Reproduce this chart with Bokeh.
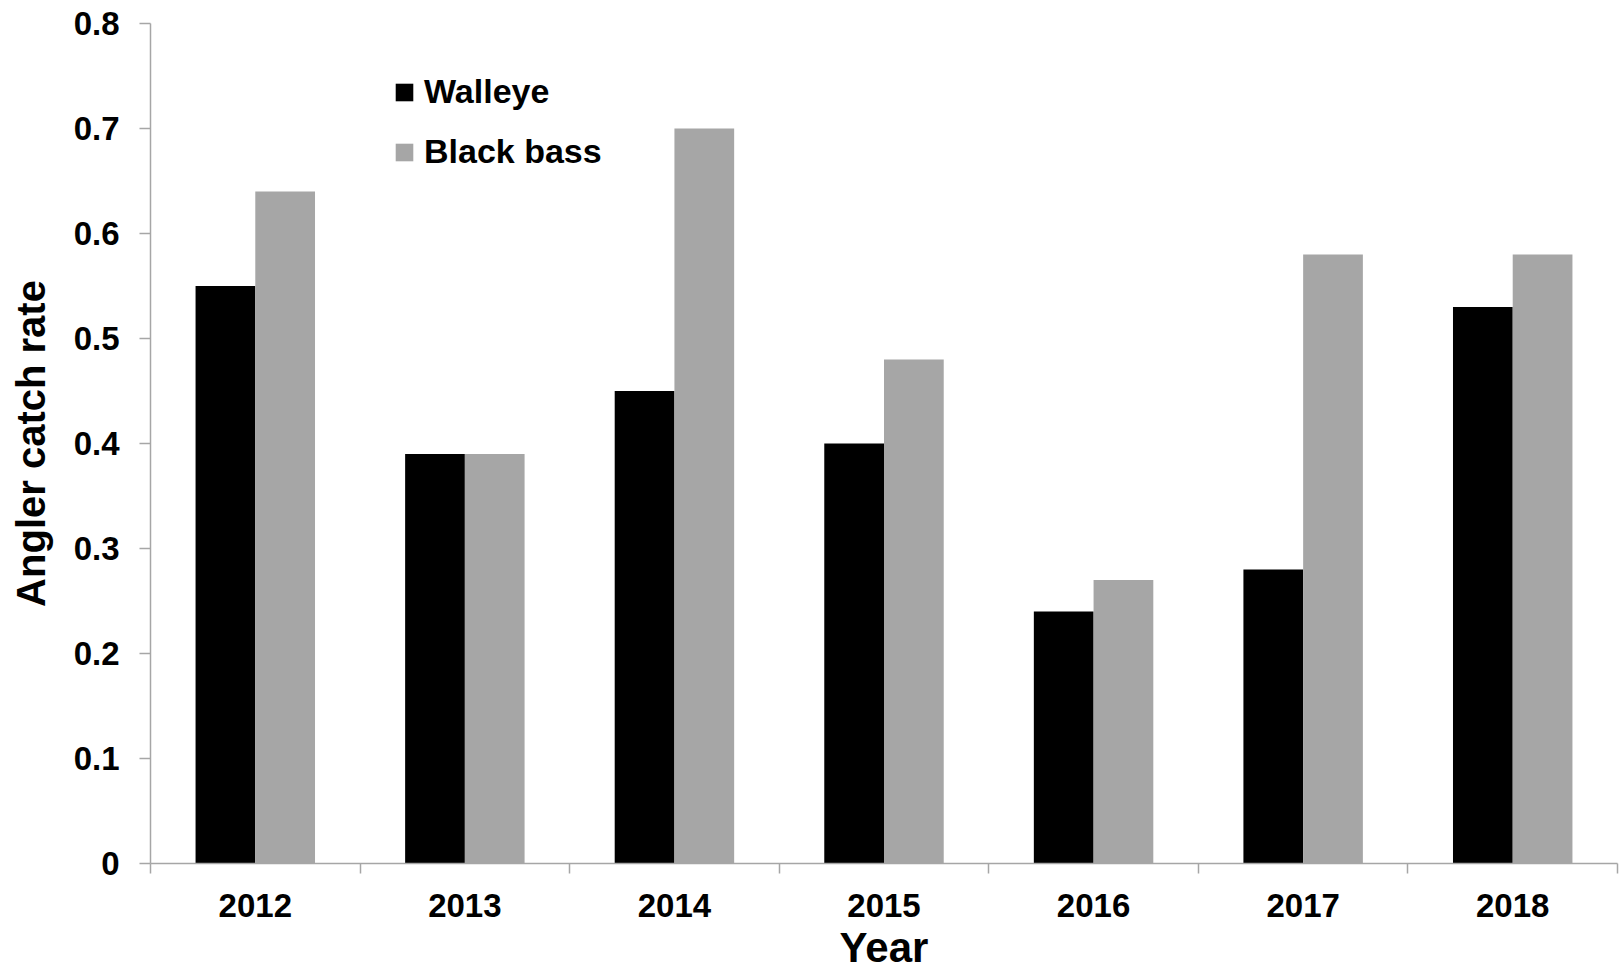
from bokeh.plotting import figure
from bokeh.models import (FixedTicker, CustomJSTickFormatter, Range1d, Legend, LegendItem,
                          ColumnDataSource)
from bokeh.embed import file_html
from bokeh.resources import INLINE

years = ["2012", "2013", "2014", "2015", "2016", "2017", "2018"]
walleye = [0.55, 0.39, 0.45, 0.40, 0.24, 0.28, 0.53]
black_bass = [0.64, 0.39, 0.70, 0.48, 0.27, 0.58, 0.58]
y_ticks = [0, 0.1, 0.2, 0.3, 0.4, 0.5, 0.6, 0.7, 0.8]

bar_w = 0.285
idx = list(range(len(years)))
src = ColumnDataSource(dict(
    xw=[i + 0.5 - bar_w / 2 for i in idx],
    xb=[i + 0.5 + bar_w / 2 for i in idx],
    walleye=walleye,
    bass=black_bass,
))

FONT = "Liberation Sans"
AXIS = "#a6a6a6"

p = figure(width=1619, height=973, output_backend="svg", toolbar_location=None,
           x_range=Range1d(0, len(years)), y_range=Range1d(0, 0.8),
           min_border_left=150, min_border_top=23, min_border_right=2,
           min_border_bottom=109)
p.outline_line_color = None
p.xgrid.visible = False
p.ygrid.visible = False
p.background_fill_color = "white"

rw = p.vbar(x="xw", top="walleye", width=bar_w, bottom=0, source=src,
            fill_color="#000000", line_color=None)
rb = p.vbar(x="xb", top="bass", width=bar_w, bottom=0, source=src,
            fill_color="#a6a6a6", line_color=None)

# x axis
xa = p.xaxis[0]
xa.ticker = FixedTicker(ticks=[i + 0.5 for i in idx], minor_ticks=list(range(len(years) + 1)))
xa.formatter = CustomJSTickFormatter(args=dict(years=years),
                                     code="return years[Math.floor(tick)];")
xa.major_tick_out = 0
xa.major_tick_in = 0
xa.minor_tick_out = 10
xa.minor_tick_in = 0
xa.minor_tick_line_color = AXIS
xa.minor_tick_line_width = 1.5
xa.axis_line_color = AXIS
xa.axis_line_width = 1.5
xa.major_label_text_font = FONT
xa.major_label_text_font_style = "bold"
xa.major_label_text_font_size = "33px"
xa.major_label_text_color = "#000000"
xa.major_label_standoff = 20
xa.axis_label = "Year"
xa.axis_label_text_font = FONT
xa.axis_label_text_font_style = "bold"
xa.axis_label_text_font_size = "42px"
xa.axis_label_text_color = "#000000"
xa.axis_label_standoff = 4

# y axis
ya = p.yaxis[0]
ya.ticker = FixedTicker(ticks=y_ticks, minor_ticks=[])
ya.formatter = CustomJSTickFormatter(code="return tick < 1e-9 ? '0' : tick.toFixed(1);")
ya.major_tick_out = 11
ya.major_tick_in = 0
ya.minor_tick_out = 0
ya.minor_tick_in = 0
ya.major_tick_line_color = AXIS
ya.major_tick_line_width = 1.5
ya.axis_line_color = AXIS
ya.axis_line_width = 1.5
ya.major_label_text_font = FONT
ya.major_label_text_font_style = "bold"
ya.major_label_text_font_size = "33px"
ya.major_label_text_color = "#000000"
ya.major_label_standoff = 20
ya.axis_label = "Angler catch rate"
ya.axis_label_text_font = FONT
ya.axis_label_text_font_style = "bold"
ya.axis_label_text_font_size = "40px"
ya.axis_label_text_color = "#000000"
ya.axis_label_standoff = 18

legend = Legend(items=[LegendItem(label="Walleye", renderers=[rw]),
                       LegendItem(label="Black bass", renderers=[rb])],
                location=(243, 692), orientation="vertical",
                glyph_width=22, glyph_height=22, label_height=38,
                label_standoff=9, spacing=21, padding=0, margin=0,
                border_line_color=None, background_fill_alpha=0,
                label_text_font=FONT, label_text_font_style="bold",
                label_text_font_size="34px", label_text_color="#000000")
p.add_layout(legend)

open("out.html", "w").write(file_html(p, INLINE))
